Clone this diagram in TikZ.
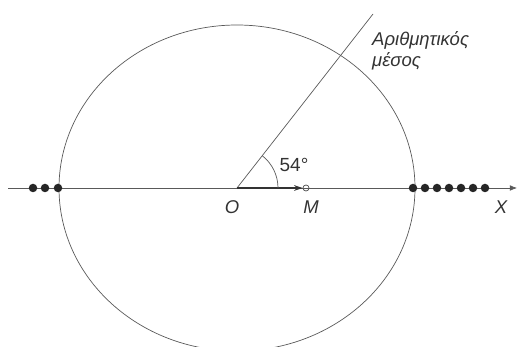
\documentclass[tikz,border=0pt]{standalone}
\usepackage{fontspec}
\setmainfont{Liberation Sans}
\usetikzlibrary{arrows.meta, positioning}

\begin{document}
\begin{tikzpicture}[
    x=1pt, y=-1pt,
    line/.style={draw=black!65, line width=0.7pt},
    dot/.style={circle, fill=black!85, inner sep=0pt, minimum size=8.5pt},
    lbl/.style={font=\fontsize{18.5}{21}\selectfont\itshape, text=black!80, inner sep=0pt},
    arrow/.style={-{Stealth[length=3mm, width=2mm]}, line width=1.6pt, draw=black!80}
]
    \useasboundingbox (0,0) rectangle (517,347);

    % Origin, axis ends and ray
    \coordinate (O) at (237,188);
    \coordinate (xstart) at (8,188);
    \coordinate (xend) at (517,188);
    \coordinate (ray) at (373,14);
    \node[circle, draw=black!70, fill=white, line width=0.7pt, inner sep=0pt, minimum size=6pt] (M) at (306,188) {};

    % Circle
    \draw[line] (O) ellipse [x radius=178, y radius=163];

    % Axis and mean direction
    \draw[line, -{Latex[length=2.5mm, width=2mm]}] (xstart) -- (xend);
    \draw[line] (O) -- (ray);
    \draw[arrow] (O) -- (M.west);
    \draw[line] (O) ++(41,0) arc[start angle=0, end angle=-52, radius=41];

    % Data points
    \foreach \x [count=\i] in {33,45,58}
        \node[dot] (left\i) at (\x,188) {};
    \foreach \x [count=\i] in {413,425,437,449,461,473,485}
        \node[dot] (right\i) at (\x,188) {};

    % Labels
    \node[lbl] (olabel) at (232,207) {O};
    \node[lbl] (mlabel) at (311,207) {M};
    \node[lbl] (xlabel) at (501,207) {X};
    \node[lbl, font=\fontsize{19}{21}\selectfont] (angle) at (294,165) {54°};
    \node[lbl, anchor=north west, align=left] (mean) at (372,31) {Αριθμητικός\\μέσος};
\end{tikzpicture}
\end{document}
